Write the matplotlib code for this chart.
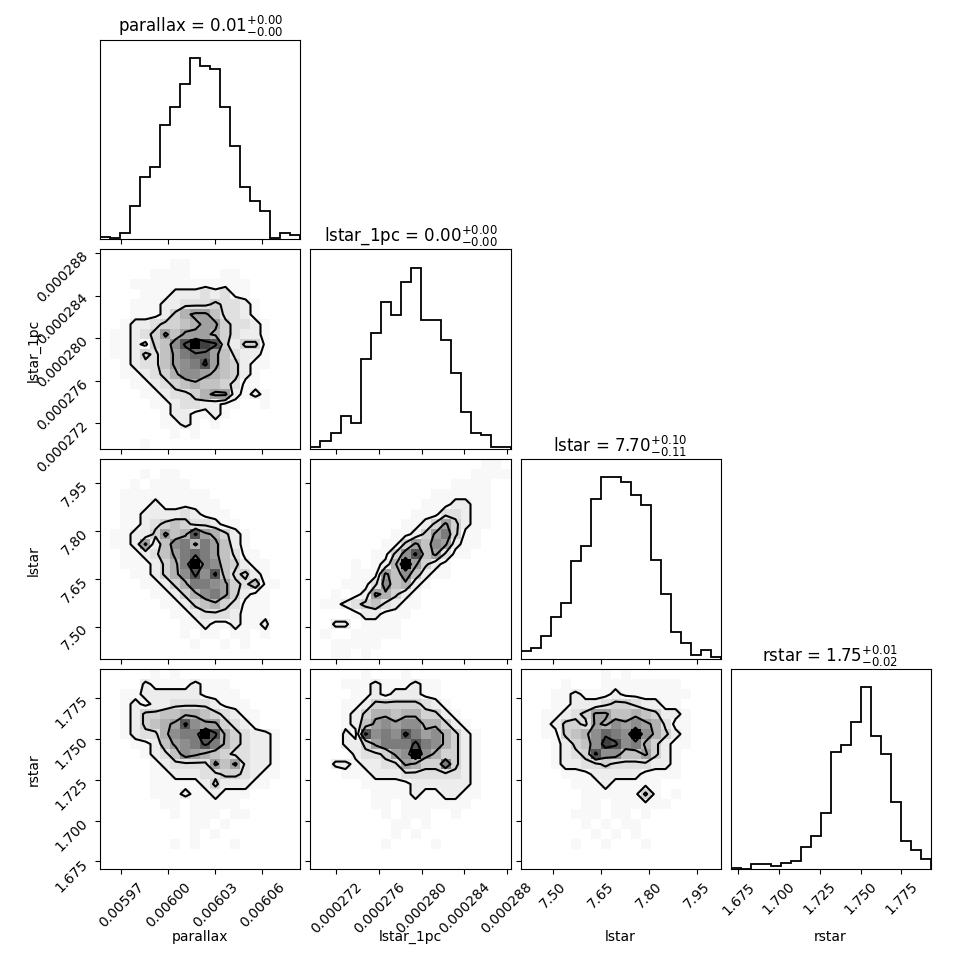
import numpy as np
import matplotlib
matplotlib.use("Agg")
import matplotlib.pyplot as plt
from matplotlib.colors import LinearSegmentedColormap, PowerNorm

# ---------------- data ----------------
labels = ["parallax", "lstar_1pc", "lstar", "rstar"]
title_values = [r"$0.01_{-0.00}^{+0.00}$", r"$0.00_{-0.00}^{+0.00}$",
                r"$7.70_{-0.11}^{+0.10}$", r"$1.75_{-0.02}^{+0.01}$"]

range_parallax = (0.0059566, 0.0060843)
range_lstar_1pc = (0.00026956, 0.00028834)
range_lstar = (7.398, 8.023)
range_rstar = (1.6703, 1.7928)

ticks_parallax = [0.00597, 0.00600, 0.00603, 0.00606]
ticks_lstar_1pc = [0.000272, 0.000276, 0.000280, 0.000284, 0.000288]
ticks_lstar = [7.50, 7.65, 7.80, 7.95]
ticks_rstar = [1.675, 1.700, 1.725, 1.750, 1.775]
ticklabels_parallax = ["0.00597", "0.00600", "0.00603", "0.00606"]
ticklabels_lstar_1pc = ["0.000272", "0.000276", "0.000280", "0.000284", "0.000288"]
ticklabels_lstar = ["7.50", "7.65", "7.80", "7.95"]
ticklabels_rstar = ["1.675", "1.700", "1.725", "1.750", "1.775"]

# 1D histogram heights (20 bins, arbitrary units)
hist_parallax = [6, 3, 18, 101, 186, 217, 341, 396, 464, 543, 517, 508, 396, 280, 158, 116, 86, 5, 18, 12]
hist_lstar_1pc = [8, 26, 50, 99, 80, 272, 351, 443, 403, 504, 547, 389, 389, 328, 229, 113, 49, 42, 8, 8]
hist_lstar = [23, 33, 69, 126, 170, 295, 341, 482, 547, 547, 534, 495, 465, 299, 197, 83, 50, 12, 27, 6]
hist_rstar = [2, 0, 14, 14, 8, 18, 24, 65, 98, 168, 352, 371, 440, 545, 398, 344, 200, 84, 57, 29]

# 2D histogram densities (20x20 bins, top row first, hex digits 0..f)
grid_lstar_1pc_parallax = [
    "00000000000000000000",
    "00000001100000000000",
    "00000111100011000000",
    "00011111111111100000",
    "00001112223231100000",
    "00011122333433210000",
    "00011124677533210000",
    "00122344567743321000",
    "01123475777643221000",
    "01121458bfcb42441000",
    "011243579aa753221000",
    "0012335789b754211000",
    "00112346887654210000",
    "00011234565543110000",
    "00001123346772121000",
    "00000112332211001000",
    "00000012211210000000",
    "00000011210100000000",
    "00000001010000000000",
    "00001000000000000000",
]
grid_lstar_parallax = [
    "00000000000000000000",
    "00001011000000000000",
    "00010111100000000000",
    "00111111111000000000",
    "00111211111100000000",
    "00112222321110000000",
    "00112345433211000000",
    "011224756b7642100000",
    "01127258969752100000",
    "001123579a9753110000",
    "001112469f9854211000",
    "000112468b8b53421000",
    "00001124699874351100",
    "00000112468974211000",
    "00000011245643111000",
    "00000001123332111000",
    "00000000112112112000",
    "00000000101101101000",
    "00000000010010100000",
    "00000000000000000000",
]
grid_lstar_lstar_1pc = [
    "00000000000000000110",
    "00000000000000001111",
    "00000000000000111100",
    "00000000000011111100",
    "00000000000111221100",
    "00000000001113321100",
    "00000000011247421100",
    "00000000112479411000",
    "00000001147587211000",
    "0000001148b573110000",
    "000010126f7421000000",
    "00001117585211000000",
    "00011138562100000000",
    "00101276421000000000",
    "01123453211000000000",
    "00001221110000000000",
    "00220111100000000000",
    "01001111100000000000",
    "00111110000000000000",
    "00110100000000000000",
]
grid_rstar_parallax = [
    "00000101000000000000",
    "00002111121110000000",
    "00112222221111000000",
    "00121223333211100000",
    "00124455665432110000",
    "00124567b87743210000",
    "0012336899fb64322100",
    "0001125789b964322100",
    "00001235876543322100",
    "00000123333757322100",
    "00000112223344321100",
    "00000111112422211000",
    "00000111211211100000",
    "00000011011111000000",
    "00000001011101100000",
    "00000000011010000000",
    "00000000010100000000",
    "00000001010001000000",
    "00000000000000000000",
    "00000000000000000000",
]
grid_rstar_lstar_1pc = [
    "00000100010000000000",
    "00011121112110000000",
    "00001121222110000000",
    "00011244444321000000",
    "00012466566442100000",
    "00012578788664210000",
    "00021b898b9786421000",
    "0002247999b986421000",
    "0000233478f864421000",
    "00221223376449421000",
    "00011122233333321000",
    "00000111112222221000",
    "00000011112112211000",
    "00000011011111110000",
    "00000001011100100000",
    "00000000110100000000",
    "00000000101000000000",
    "00000001000010000000",
    "00000000000000000000",
    "00000000000000000000",
]
grid_rstar_lstar = [
    "00000000101000000000",
    "00001000111111110000",
    "00011211121111111000",
    "00011222344322110000",
    "00112347755654221000",
    "00124437687876311000",
    "00114568a98f86421000",
    "00012458cb8964211000",
    "0001234b885574210000",
    "00012233433332210000",
    "00001112222211110000",
    "00000111211111000000",
    "00000011111141010000",
    "00000011011111100000",
    "00000111011010000000",
    "00000010101100000000",
    "00000001010100000000",
    "00000100100010000000",
    "00000000000000000000",
    "00000000000000000000",
]

ranges = [range_parallax, range_lstar_1pc, range_lstar, range_rstar]
ticks = [ticks_parallax, ticks_lstar_1pc, ticks_lstar, ticks_rstar]
ticklabels = [ticklabels_parallax, ticklabels_lstar_1pc, ticklabels_lstar, ticklabels_rstar]
hists = [hist_parallax, hist_lstar_1pc, hist_lstar, hist_rstar]
grids = {
    (1, 0): grid_lstar_1pc_parallax,
    (2, 0): grid_lstar_parallax,
    (2, 1): grid_lstar_lstar_1pc,
    (3, 0): grid_rstar_parallax,
    (3, 1): grid_rstar_lstar_1pc,
    (3, 2): grid_rstar_lstar,
}

# ---------------- style ----------------
LEVELS = [1.5, 3.5, 6.5, 10.5]
NBINS = 20
density_cmap = LinearSegmentedColormap.from_list("dens", ["white", "black"])

fig, axes = plt.subplots(4, 4, figsize=(9.7, 9.7), dpi=100)
fig.subplots_adjust(left=0.1036, right=0.9593, bottom=0.1031, top=0.9582,
                    wspace=0.05, hspace=0.05)


def draw_2d(ax, rows, xr, yr):
    H = np.array([[int(ch, 16) for ch in r] for r in rows[::-1]], dtype=float)
    xe = np.linspace(xr[0], xr[1], NBINS + 1)
    ye = np.linspace(yr[0], yr[1], NBINS + 1)
    ax.pcolormesh(xe, ye, H, cmap=density_cmap,
                  norm=PowerNorm(gamma=1.3, vmin=0, vmax=H.max()),
                  shading="flat", edgecolors="none", antialiased=False)
    dx = xe[1] - xe[0]
    dy = ye[1] - ye[0]
    xc = 0.5 * (xe[1:] + xe[:-1])
    yc = 0.5 * (ye[1:] + ye[:-1])
    xcp = np.concatenate([[xc[0] - dx], xc, [xc[-1] + dx]])
    ycp = np.concatenate([[yc[0] - dy], yc, [yc[-1] + dy]])
    Hp = np.zeros((NBINS + 2, NBINS + 2))
    Hp[1:-1, 1:-1] = H
    ax.contour(xcp, ycp, Hp, levels=LEVELS, colors="k", linewidths=1.5)


for i in range(4):
    for j in range(4):
        ax = axes[i, j]
        if j > i:
            ax.set_frame_on(False)
            ax.set_xticks([])
            ax.set_yticks([])
            continue
        if i == j:
            vals = np.array(hists[i], dtype=float)
            edges = np.linspace(ranges[i][0], ranges[i][1], NBINS + 1)
            ax.stairs(vals, edges, color="k", linewidth=1.3)
            ax.set_xlim(ranges[i])
            ax.set_ylim(0, 1.1 * vals.max())
            ax.set_yticks([])
            ax.set_title(labels[i] + " = " + title_values[i], fontsize=12)
        else:
            draw_2d(ax, grids[(i, j)], ranges[j], ranges[i])
            ax.set_xlim(ranges[j])
            ax.set_ylim(ranges[i])
            ax.set_yticks(ticks[i])
            if j == 0:
                ax.set_yticklabels(ticklabels[i], rotation=45)
                ax.set_ylabel(labels[i], fontsize=10)
                ax.yaxis.set_label_coords(-0.3, 0.5)
            else:
                ax.set_yticklabels([])
        ax.set_xticks(ticks[j])
        if i == 3:
            ax.set_xticklabels(ticklabels[j], rotation=45)
            ax.set_xlabel(labels[j], fontsize=10)
            ax.xaxis.set_label_coords(0.5, -0.3)
        else:
            ax.set_xticklabels([])

fig.savefig("out.png", dpi=100)
